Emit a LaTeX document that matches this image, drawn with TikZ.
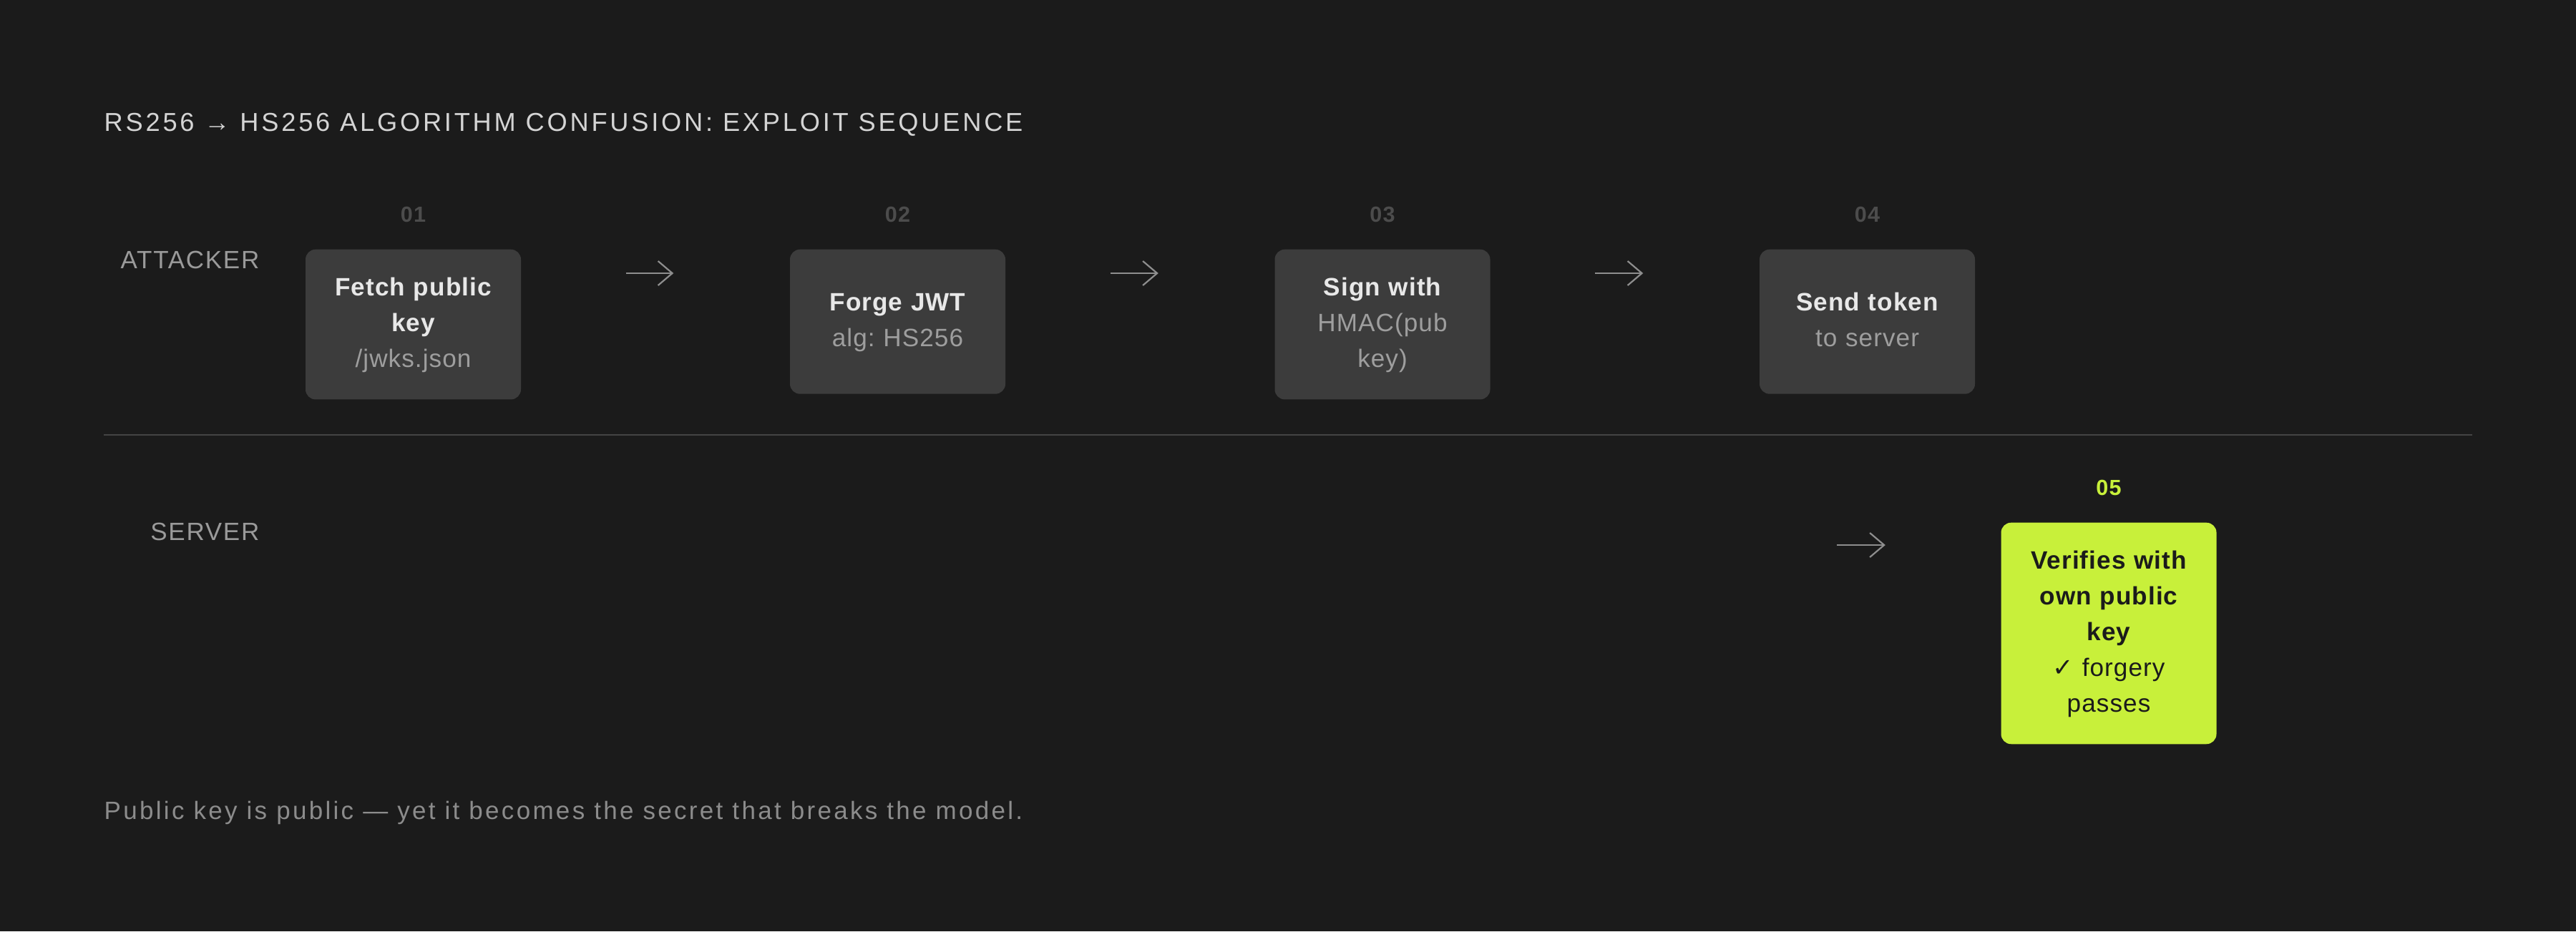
\documentclass[tikz,border=0pt]{standalone}
\usepackage{fontspec}
\setmainfont{Liberation Sans}
\newfontfamily\symfont{DejaVu Sans}
\usetikzlibrary{arrows.meta,calc}

\definecolor{bg}{HTML}{1B1B1B}
\definecolor{boxgray}{HTML}{3C3C3C}
\definecolor{lime}{HTML}{C8F03A}
\definecolor{ink}{HTML}{1B1B1B}
\definecolor{headgray}{HTML}{D4D4D4}
\definecolor{lanegray}{HTML}{9A9A9A}
\definecolor{numgray}{HTML}{4C4C4C}
\definecolor{boxtitle}{HTML}{E8E8E8}
\definecolor{boxsub}{HTML}{9E9E9E}
\definecolor{notegray}{HTML}{8C8C8C}
\definecolor{rulegray}{HTML}{444444}
\definecolor{arrowgray}{HTML}{8E8E8E}

\newcommand{\steptext}[2]{{\bfseries\color{boxtitle}\strut #1}\\{\color{boxsub}#2\strut}}

\begin{document}
\frenchspacing
\begin{tikzpicture}[
		arrow/.style={-{Straight Barb[length=0.2cm,width=0.34cm]}, draw=arrowgray, line width=0.022cm},
		rule/.style={draw=rulegray, line width=0.02cm},
		heading/.style={anchor=base west, inner sep=0pt, text=headgray, font=\fontsize{10.3pt}{12pt}\selectfont\addfontfeature{LetterSpace=10.5}},
		lane/.style={anchor=base east, inner sep=0pt, text=lanegray, font=\fontsize{9.95pt}{12pt}\selectfont\addfontfeature{LetterSpace=5}},
		num/.style={anchor=base, inner sep=0pt, text=numgray, font=\fontsize{8.7pt}{10pt}\selectfont\bfseries\addfontfeature{LetterSpace=4}},
		stepbox/.style={anchor=north, fill=boxgray, rounded corners=0.14cm, text width=2.41cm, inner xsep=0.3cm, inner ysep=0.3cm, minimum height=2.02cm, align=center, font=\fontsize{10pt}{14.2pt}\selectfont\addfontfeature{LetterSpace=3}},
		lastbox/.style={stepbox, fill=lime, text=ink},
		note/.style={anchor=base west, inner sep=0pt, text=notegray, font=\fontsize{9.95pt}{12pt}\selectfont\addfontfeature{LetterSpace=9.5}},
	]
		\fill[bg] (0,0) rectangle (36,-13.02);
		\useasboundingbox (0,0) rectangle (36,-13.02);

		\node at (1.45,-1.83) (title) [heading] {RS256 → HS256 ALGORITHM CONFUSION: EXPLOIT SEQUENCE};

		% lanes
		\node at (3.63,-3.75) (attacker) [lane] {ATTACKER};
		\node at (3.63,-7.55) (server) [lane] {SERVER};
		\draw[rule] (1.45,-6.08) -- (34.55,-6.08);

		% attacker steps
		\node at (5.775,-3.10) (n1) [num] {01};
		\node at (12.545,-3.10) (n2) [num] {02};
		\node at (19.32,-3.10) (n3) [num] {03};
		\node at (26.095,-3.10) (n4) [num] {04};

		\node at (5.775,-3.48) (b1) [stepbox] {\steptext{Fetch public\\key}{/jwks.json}};
		\node at (12.545,-3.48) (b2) [stepbox] {\steptext{Forge JWT}{alg: HS256}};
		\node at (19.32,-3.48) (b3) [stepbox] {\steptext{Sign with}{HMAC(pub\\key)}};
		\node at (26.095,-3.48) (b4) [stepbox] {\steptext{Send token}{to server}};

		\draw[arrow] ([xshift=1.46cm,yshift=-0.34cm]b1.north east) -- ([xshift=-1.62cm,yshift=-0.34cm]b2.north west);
		\draw[arrow] ([xshift=1.46cm,yshift=-0.34cm]b2.north east) -- ([xshift=-1.62cm,yshift=-0.34cm]b3.north west);
		\draw[arrow] ([xshift=1.46cm,yshift=-0.34cm]b3.north east) -- ([xshift=-1.62cm,yshift=-0.34cm]b4.north west);

		% server step
		\node at (29.47,-6.92) (n5) [num, text=lime] {05};
		\node at (29.47,-7.30) (b5) [lastbox] {{\bfseries\strut Verifies with\\own public\\key}\\{{\symfont ✓} forgery\\passes\strut}};

		\coordinate (s0) at ([xshift=-2.29cm,yshift=-0.32cm]b5.north west);
		\draw[arrow] (s0) -- ([xshift=-1.61cm,yshift=-0.32cm]b5.north west);

		\node at (1.45,-11.45) (footnote) [note] {Public key is public — yet it becomes the secret that breaks the model.};
	\end{tikzpicture}
\end{document}
